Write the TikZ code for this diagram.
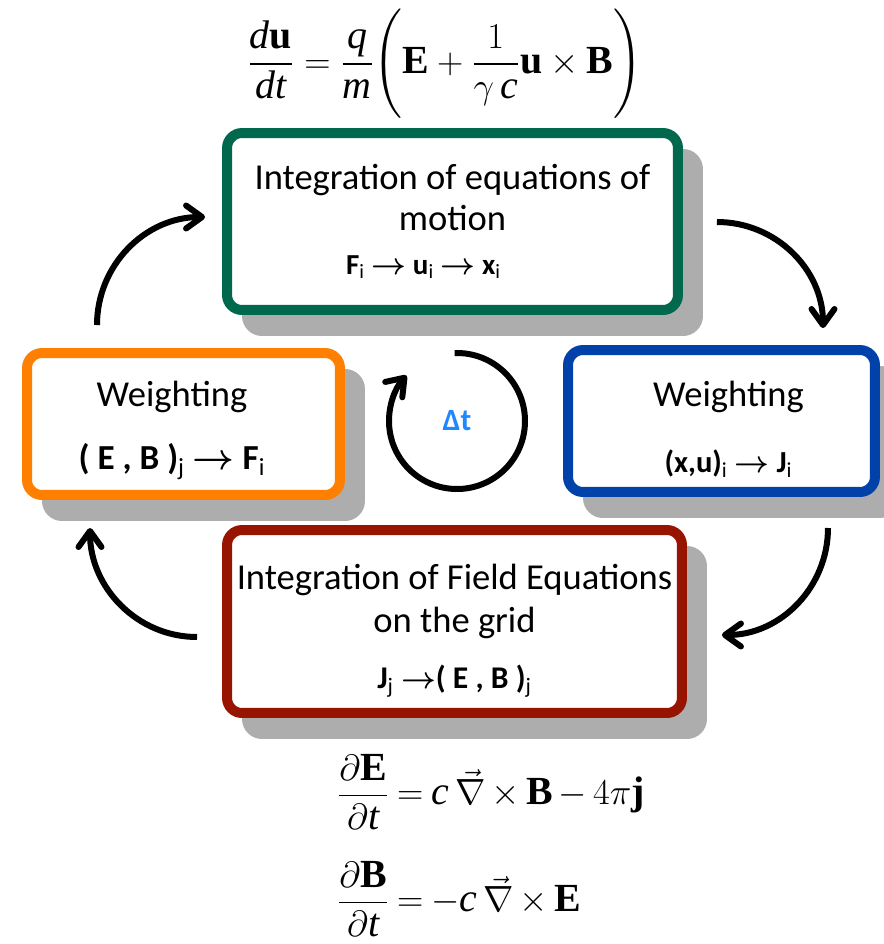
\documentclass[tikz,border=0pt]{standalone}
\usepackage{amsmath}
\usepackage{fontspec}
\setmainfont{Liberation Serif}
\newfontfamily\calibri{Carlito}
\usetikzlibrary{arrows.meta,shadows}

\definecolor{motiongreen}{RGB}{0,104,77}
\definecolor{weightorange}{RGB}{255,128,0}
\definecolor{weightblue}{RGB}{0,66,170}
\definecolor{fieldred}{RGB}{150,20,0}
\definecolor{shadowgray}{RGB}{173,173,173}
\definecolor{dtblue}{RGB}{30,136,255}

\newcommand{\goesto}{$\boldsymbol{\rightarrow}$}
\newcommand{\tightmath}{\thickmuskip=4mu plus 1mu\relax\medmuskip=3mu plus 1mu\relax}

\begin{document}
\begin{tikzpicture}[x=0.02cm, y=-0.02cm,
      every node/.style={font=\calibri\fontsize{20.8}{23.2}\selectfont},
      stagebox/.style={draw=#1, line width=0.2cm, rounded corners=0.3cm, fill=white, align=center, inner sep=0pt,
        drop shadow={shadow xshift=0.4cm, shadow yshift=-0.42cm, fill=shadowgray, draw=shadowgray, line width=0.2cm, opacity=1}},
      eqn/.style={font=\fontsize{22.7}{27}\selectfont, inner sep=0pt},
      loopline/.style={-{Straight Barb[length=3.2mm, width=4.6mm, line cap=round, line join=round]}, line width=0.12cm}
  ]
    \useasboundingbox (0,0) rectangle (884,944);
    % the four stages of the cycle
    \node[stagebox=motiongreen, minimum width=9.02cm, minimum height=3.54cm] (motion) at (452.5,221.5)
      {Integration of equations of\\motion\\[1.8pt]{\fontsize{16.5}{19}\selectfont\textbf{F}\textsubscript{i} \goesto{} \textbf{u}\textsubscript{i} \goesto{} \textbf{x}\textsubscript{i}\hspace*{1.16cm}}};
    \node[stagebox=weightblue, minimum width=6.14cm, minimum height=2.84cm] (wflux) at (721.5,421)
      {\hspace*{0.28cm}\rule{0pt}{0.83cm}Weighting\\[14.8pt]{\fontsize{17.4}{20}\selectfont\hspace*{0.28cm}\textbf{(x,u)}\textsubscript{i} \goesto{} \textbf{J}\textsubscript{i}}};
    \node[stagebox=fieldred, minimum width=9.1cm, minimum height=3.66cm] (field) at (454.5,621.5)
      {\rule{0pt}{0.87cm}Integration of Field Equations\\[0.9pt]on the grid\\[8.8pt]{\fontsize{18}{20}\selectfont\textbf{J}\textsubscript{j} \goesto\textbf{( E , B )}\textsubscript{j}}};
    \node[stagebox=weightorange, minimum width=6.26cm, minimum height=2.84cm] (wfield) at (183.5,424)
      {\rule{0pt}{0.75cm}Weighting\hspace*{0.46cm}\\[13.1pt]{\fontsize{20}{23}\selectfont\textbf{( E , B )}\textsubscript{j} \goesto{} \textbf{F}\textsubscript{i}\hspace*{0.46cm}}};
    % time step
    \node[font=\calibri\bfseries\fontsize{17.6}{20}\selectfont, text=dtblue] (dt) at (457,421) {Δt};
    \draw[loopline] ([shift={(-92:68)}]dt.center) arc[start angle=-92, end angle=222, radius=68];
    % arrows between the stages
    \draw[loopline] ([shift={(-86.5,-23)}]wfield.north) to[out=90, in=180] ([shift={(-17,-4.5)}]motion.west);
    \draw[loopline] ([shift={(34,0.5)}]motion.east) to[out=0, in=90] ([shift={(101.5,-17)}]wflux.north);
    \draw[loopline] ([shift={(106.5,31)}]wflux.south) to[out=-90, in=0] ([shift={(35,13.5)}]field.east);
    \draw[loopline] ([shift={(-25,15.5)}]field.west) to[out=180, in=-90] ([shift={(-93.5,28)}]wfield.south);
    % equations
    \node[eqn] (lorentz) at (445,64)
      {$\displaystyle\frac{\mathit{d}\mathbf{u}}{\mathit{dt}} = \frac{\mathit{q}}{\mathit{m}}\Biggl(\mathbf{E}+\frac{1}{\gamma\,\mathit{c}}\mathbf{u}\times\mathbf{B}\Biggr)$};
    \node[eqn, anchor=west] (ampere) at (337,792)
      {$\tightmath\displaystyle\frac{\partial\mathbf{E}}{\partial \mathit{t}} = \mathit{c}\,\vec{\nabla}\times\mathbf{B} - 4\pi\mathbf{j}$};
    \node[eqn, anchor=west] (faraday) at (337,899)
      {$\tightmath\displaystyle\frac{\partial\mathbf{B}}{\partial \mathit{t}} = -\mathit{c}\,\vec{\nabla}\times\mathbf{E}$};
\end{tikzpicture}
\end{document}
